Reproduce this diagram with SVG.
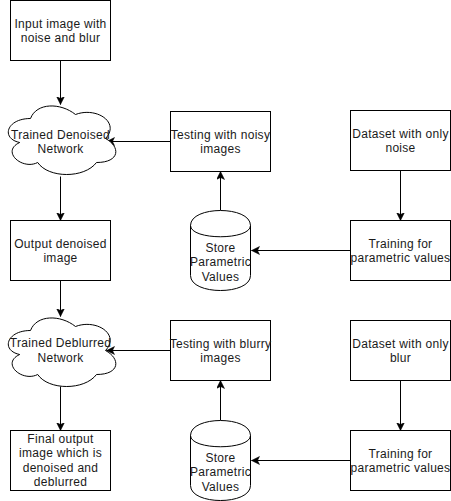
<svg xmlns="http://www.w3.org/2000/svg" width="451" height="501" viewBox="0 0 451 501">
<style>
.box{fill:#fff;stroke:#000;stroke-width:1}
.shape{fill:#fff;stroke:#000;stroke-width:1}
.edge{fill:none;stroke:#000;stroke-width:1;marker-end:url(#arr)}
text{font-family:"Liberation Sans",Arial,sans-serif;font-size:12px;letter-spacing:0.3px;fill:#1a1a1a;text-anchor:middle}
</style>
<defs>
<marker id="arr" markerUnits="userSpaceOnUse" markerWidth="10" markerHeight="10" refX="8" refY="4" orient="auto">
<path d="M0,0 L8,4 L0,8 L2,4 Z" fill="#000" stroke="#000" stroke-width="0.5"/>
</marker>
<path id="cloud" d="M30,20 C6,20 0,40 19.2,44 C0,52.8 21.6,72 37.2,64 C48,80 84,80 96,64 C120,64 120,48 105,40 C120,24 96,8 75,16 C60,4 36,4 30,20 Z"/>
<path id="cyl" d="M0,15 C0,-5 60,-5 60,15 L60,65 C60,85 0,85 0,65 Z M0,15 C0,30 60,30 60,15"/>
</defs>
<rect width="451" height="501" fill="#fff"/>
<g transform="translate(0.5,0.5)">
<g id="connectors">
<path class="edge" d="M60,60 L60,104"/>
<path class="edge" d="M60,176 L60,220"/>
<path class="edge" d="M60,280 L60,316"/>
<path class="edge" d="M60,386 L60,430"/>
<path class="edge" d="M170,141 L106,141"/>
<path class="edge" d="M170,350 L106,350"/>
<path class="edge" d="M400,170 L400,220"/>
<path class="edge" d="M400,380 L400,430"/>
<path class="edge" d="M350,250 L251,250"/>
<path class="edge" d="M350,460 L251,460"/>
<path class="edge" d="M220,210 L220,171"/>
<path class="edge" d="M220,420 L220,380"/>
</g>
<g id="input">
<rect class="box" x="10" y="0" width="100" height="60"/>
<text x="60" y="27">Input image with</text>
<text x="60" y="41">noise and blur</text>
</g>
<g id="cloud-denoised">
<use href="#cloud" class="shape" transform="translate(0,98)"/>
<text x="60" y="138">Trained Denoised</text>
<text x="60" y="152">Network</text>
</g>
<g id="output-denoised">
<rect class="box" x="10" y="220" width="100" height="60"/>
<text x="60" y="247">Output denoised</text>
<text x="60" y="261">image</text>
</g>
<g id="cloud-deblurred">
<use href="#cloud" class="shape" transform="translate(0,310)"/>
<text x="60" y="346">Trained Deblurred</text>
<text x="60" y="361">Network</text>
</g>
<g id="final-output">
<rect class="box" x="10" y="430" width="100" height="60"/>
<text x="60" y="442.4">Final output</text>
<text x="60" y="456.8">image which is</text>
<text x="60" y="471.2">denoised and</text>
<text x="60" y="485.6">deblurred</text>
</g>
<g id="testing-noisy">
<rect class="box" x="170" y="111" width="100" height="60"/>
<text x="220" y="138.5">Testing with noisy</text>
<text x="220" y="152.5">images</text>
</g>
<g id="store-1">
<use href="#cyl" class="shape" transform="translate(190,210)"/>
<text x="220" y="251">Store</text>
<text x="220" y="265.5">Parametric</text>
<text x="220" y="280">Values</text>
</g>
<g id="dataset-noise">
<rect class="box" x="350" y="110" width="100" height="60"/>
<text x="400" y="137">Dataset with only</text>
<text x="400" y="151">noise</text>
</g>
<g id="training-noise">
<rect class="box" x="350" y="220" width="100" height="60"/>
<text x="400" y="247">Training for</text>
<text x="400" y="261">parametric values</text>
</g>
<g id="testing-blurry">
<rect class="box" x="170" y="320" width="100" height="60"/>
<text x="220" y="347">Testing with blurry</text>
<text x="220" y="361">images</text>
</g>
<g id="store-2">
<use href="#cyl" class="shape" transform="translate(190,420)"/>
<text x="220" y="461">Store</text>
<text x="220" y="475.5">Parametric</text>
<text x="220" y="490">Values</text>
</g>
<g id="dataset-blur">
<rect class="box" x="350" y="320" width="100" height="60"/>
<text x="400" y="347">Dataset with only</text>
<text x="400" y="361">blur</text>
</g>
<g id="training-blur">
<rect class="box" x="350" y="430" width="100" height="60"/>
<text x="400" y="457">Training for</text>
<text x="400" y="471">parametric values</text>
</g>
</g>
</svg>
